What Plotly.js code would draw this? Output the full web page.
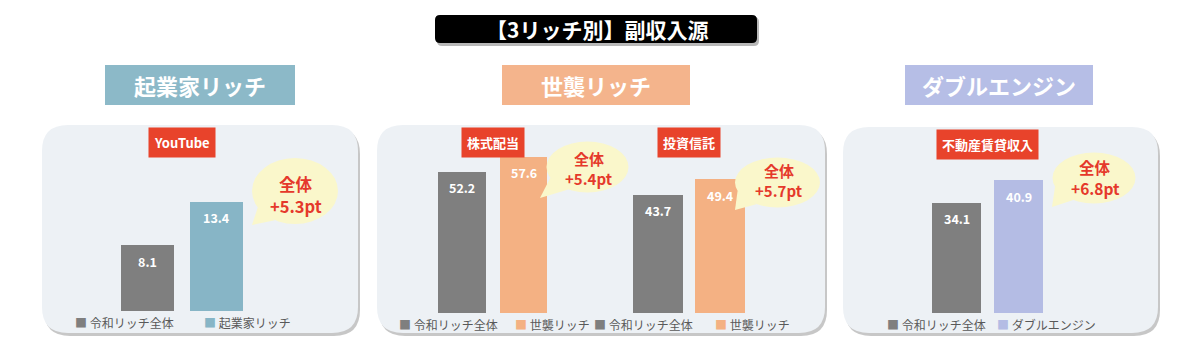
<!DOCTYPE html>
<html>
<head>
<meta charset="utf-8">
<script src="https://cdn.plot.ly/plotly-3.0.1.min.js"></script>
<style>html,body{margin:0;padding:0;background:#fff;}#chart{width:1200px;height:352px;}</style>
</head>
<body>
<div id="chart"></div>
<script>
// ---- data ----
const mainTitle = '【3リッチ別】副収入源';
const panelTitles = ['起業家リッチ', '世襲リッチ', 'ダブルエンジン'];
const groupLabels = ['YouTube', '株式配当', '投資信託', '不動産賃貸収入'];
const catsEntrepreneur = ['令和リッチ全体', '起業家リッチ'];
const catsHeir = ['令和リッチ全体', '世襲リッチ'];
const catsDouble = ['令和リッチ全体', 'ダブルエンジン'];
const valuesYouTube = [8.1, 13.4];
const valuesStock = [52.2, 57.6];
const valuesTrust = [43.7, 49.4];
const valuesRealEstate = [34.1, 40.9];

// ---- styling ----
const FONT = '"Noto Sans CJK JP", "Noto Sans", sans-serif';
const GRAY = '#7f7f7f';
const BLUE = '#87b5c6';
const ORANGE = '#f4b183';
const LAVENDER = '#b4bce4';
const HEAD_BLUE = '#8cb9c8';
const HEAD_ORANGE = '#f4b48c';
const HEAD_LAV = '#b6bee6';
const RED = '#e8432b';
const BUBBLE = '#faf7cb';
const PANEL = '#edf1f5';

const W = 1200, H = 352;
const X = px => px / W;
const Y = py => 1 - py / H;
function pt(x, y) { return X(x) + ',' + Y(y); }
function roundRect(x0, y0, x1, y1, r) {
  return 'M' + pt(x0 + r, y0) + ' L' + pt(x1 - r, y0) + ' Q' + pt(x1, y0) + ' ' + pt(x1, y0 + r) +
    ' L' + pt(x1, y1 - r) + ' Q' + pt(x1, y1) + ' ' + pt(x1 - r, y1) +
    ' L' + pt(x0 + r, y1) + ' Q' + pt(x0, y1) + ' ' + pt(x0, y1 - r) +
    ' L' + pt(x0, y0 + r) + ' Q' + pt(x0, y0) + ' ' + pt(x0 + r, y0) + ' Z';
}

const groups = [
  {cats: catsEntrepreneur, vals: valuesYouTube, color: BLUE, xa: 'x', ya: 'y', w: 0.78},
  {cats: catsHeir, vals: valuesStock, color: ORANGE, xa: 'x2', ya: 'y2', w: 0.78},
  {cats: catsHeir, vals: valuesTrust, color: ORANGE, xa: 'x3', ya: 'y2', w: 0.8},
  {cats: catsDouble, vals: valuesRealEstate, color: LAVENDER, xa: 'x4', ya: 'y3', w: 0.79}
];

const traces = groups.map(g => ({
  type: 'bar', x: g.cats, y: g.vals, xaxis: g.xa, yaxis: g.ya,
  width: g.w, marker: {color: [GRAY, g.color]}, hoverinfo: 'x+y'
}));

const shapes = [];
const annotations = [];

// title box
shapes.push({type: 'path', xref: 'paper', yref: 'paper', path: roundRect(437, 17, 759, 46, 5), fillcolor: 'rgba(0,0,0,0.28)', line: {width: 0}, layer: 'below'});
shapes.push({type: 'path', xref: 'paper', yref: 'paper', path: roundRect(435, 15, 757, 43, 5), fillcolor: '#000', line: {width: 0}, layer: 'below'});
annotations.push({xref: 'paper', yref: 'paper', x: X(597), y: Y(29), text: '<b>' + mainTitle + '</b>', showarrow: false,
  font: {family: FONT, size: 21, color: '#fff'}, xanchor: 'center', yanchor: 'middle'});

// panels
const panels = [[42, 125, 358, 333], [377, 125, 825, 333], [843, 127, 1158, 333]];
panels.forEach(p => {
  shapes.push({type: 'path', xref: 'paper', yref: 'paper', path: roundRect(p[0] + 2, p[1] + 3, p[2] + 2, p[3] + 3, 26), fillcolor: 'rgba(0,0,0,0.22)', line: {width: 0}, layer: 'below'});
  shapes.push({type: 'path', xref: 'paper', yref: 'paper', path: roundRect(p[0], p[1], p[2], p[3], 26), fillcolor: PANEL, line: {width: 0}, layer: 'below'});
});

// header boxes
const heads = [[105, 295, HEAD_BLUE], [502, 690, HEAD_ORANGE], [905, 1093, HEAD_LAV]];
heads.forEach((h, i) => {
  shapes.push({type: 'rect', xref: 'paper', yref: 'paper', x0: X(h[0]), x1: X(h[1]), y0: Y(105), y1: Y(65), fillcolor: h[2], line: {width: 0}, layer: 'below'});
  annotations.push({xref: 'paper', yref: 'paper', x: X((h[0] + h[1]) / 2), y: Y(85), text: '<b>' + panelTitles[i] + '</b>', showarrow: false,
    font: {family: FONT, size: 22, color: '#fff'}, xanchor: 'center', yanchor: 'middle'});
});

// red group labels
const labelY = [142.5, 142.5, 142.5, 145];
groups.forEach((g, i) => {
  annotations.push({xref: g.xa + ' domain', yref: 'paper', x: 0.5, y: Y(labelY[i]), text: '<b>' + groupLabels[i] + '</b>', showarrow: false,
    font: {family: FONT, size: 13, color: '#fff'}, bgcolor: RED, borderpad: 5, xanchor: 'center', yanchor: 'middle'});
});

// value labels inside bars
groups.forEach(g => {
  g.cats.forEach((c, j) => {
    annotations.push({xref: g.xa, yref: g.ya, x: c, y: g.vals[j], yshift: -16, text: '<b>' + g.vals[j].toFixed(1) + '</b>', showarrow: false,
      font: {family: FONT, size: 12.5, color: '#fff'}, xanchor: 'center', yanchor: 'middle'});
  });
});

// bubbles: [cx, cy, rx, ry, tipX, tipY, angleA, angleB, fontSize, line1Y, line2Y]
const bubbles = [
  [295, 191, 43, 33, 252, 225, 150, 118, 16.5, 184, 206],
  [587.5, 167, 41, 25.5, 540, 198, 155, 118, 15, 158, 178],
  [777.5, 182.5, 42.5, 25, 735, 210, 160, 120, 15, 170, 190],
  [1094, 178, 41.5, 25.5, 1052, 207, 160, 120, 15.5, 167, 188]
];
bubbles.forEach((b, i) => {
  const [cx, cy, rx, ry, tx, ty, a1, a2, fs, l1, l2] = b;
  shapes.push({type: 'circle', xref: 'paper', yref: 'paper', x0: X(cx - rx), x1: X(cx + rx), y0: Y(cy + ry), y1: Y(cy - ry), fillcolor: BUBBLE, line: {width: 0}, layer: 'above'});
  const p1 = [cx + rx * Math.cos(a1 * Math.PI / 180), cy + ry * Math.sin(a1 * Math.PI / 180)];
  const p2 = [cx + rx * Math.cos(a2 * Math.PI / 180), cy + ry * Math.sin(a2 * Math.PI / 180)];
  shapes.push({type: 'path', xref: 'paper', yref: 'paper', path: 'M' + pt(p1[0], p1[1]) + ' L' + pt(tx, ty) + ' L' + pt(p2[0], p2[1]) + ' Z', fillcolor: BUBBLE, line: {width: 0}, layer: 'above'});
  const g = groups[i];
  const diff = '+' + (g.vals[1] - g.vals[0]).toFixed(1) + 'pt';
  annotations.push({xref: 'paper', yref: 'paper', x: X(cx + 1), y: Y(l1), text: '<b>全体</b>', showarrow: false,
    font: {family: FONT, size: fs, color: '#e5392b'}, xanchor: 'center', yanchor: 'middle'});
  annotations.push({xref: 'paper', yref: 'paper', x: X(cx + 1), y: Y(l2), text: '<b>' + diff + '</b>', showarrow: false,
    font: {family: FONT, size: fs, color: '#e5392b'}, xanchor: 'center', yanchor: 'middle'});
});

// legends
const legendItems = [
  [73, 322, GRAY, catsEntrepreneur[0]], [202, 322, BLUE, catsEntrepreneur[1]],
  [397, 324, GRAY, catsHeir[0]], [513, 324, ORANGE, catsHeir[1]],
  [592, 324, GRAY, catsHeir[0]], [713, 324, ORANGE, catsHeir[1]],
  [885, 324, GRAY, catsDouble[0]], [995, 324, LAVENDER, catsDouble[1]]
];
legendItems.forEach(l => {
  annotations.push({xref: 'paper', yref: 'paper', x: X(l[0]), y: Y(l[1]), text: '<span style="color:' + l[2] + '">■</span> ' + l[3], showarrow: false,
    font: {family: FONT, size: 12, color: '#595959'}, xanchor: 'left', yanchor: 'middle'});
});

const hidden = {visible: false, fixedrange: true, showgrid: false, zeroline: false};
const layout = {
  width: W, height: H, margin: {l: 0, r: 0, t: 0, b: 0},
  paper_bgcolor: '#fff', plot_bgcolor: 'rgba(0,0,0,0)', showlegend: false,
  bargap: 0,
  xaxis: Object.assign({}, hidden, {domain: [X(113), X(251)], range: [-0.5, 1.5], anchor: 'y'}),
  xaxis2: Object.assign({}, hidden, {domain: [X(431.25), X(554.25)], range: [-0.5, 1.5], anchor: 'y2'}),
  xaxis3: Object.assign({}, hidden, {domain: [X(627), X(751)], range: [-0.5, 1.5], anchor: 'y2'}),
  xaxis4: Object.assign({}, hidden, {domain: [X(925.5), X(1049.5)], range: [-0.5, 1.5], anchor: 'y3'}),
  yaxis: Object.assign({}, hidden, {domain: [Y(311), Y(311 - 8.14 * 16)], range: [0, 16], anchor: 'x'}),
  yaxis2: Object.assign({}, hidden, {domain: [Y(313), Y(313 - 2.71 * 60)], range: [0, 60], anchor: 'x2'}),
  yaxis3: Object.assign({}, hidden, {domain: [Y(313), Y(313 - 3.24 * 45)], range: [0, 45], anchor: 'x4'}),
  shapes: shapes, annotations: annotations
};
Plotly.newPlot('chart', traces, layout, {displayModeBar: false, staticPlot: true});
</script>
</body>
</html>
